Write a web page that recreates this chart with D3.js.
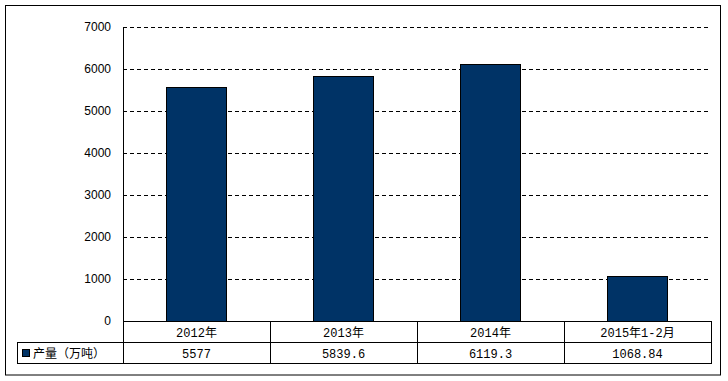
<!DOCTYPE html>
<html>
<head>
<meta charset="utf-8">
<script src="https://cdn.jsdelivr.net/npm/d3@7"></script>
<style>
  body { margin: 0; background: #fff; }
  svg { display: block; }
</style>
</head>
<body>
<svg width="728" height="381"></svg>
<script>
const categories = ["2012年", "2013年", "2014年", "2015年1-2月"];
const values = [5577, 5839.6, 6119.3, 1068.84];
const valueLabels = ["5577", "5839.6", "6119.3", "1068.84"];
const yTicks = [0, 1000, 2000, 3000, 4000, 5000, 6000, 7000];
const seriesName = "产量（万吨）";

const svg = d3.select("svg");
const plotLeft = 123, plotRight = 711, plotTop = 27, plotBottom = 321;
const rowH = 21;
const tableFont = "'Liberation Mono', 'Noto Sans CJK SC', monospace";

// outer frame
svg.append("rect")
    .attr("x", 5.5).attr("y", 5.5)
    .attr("width", 715).attr("height", 369.5)
    .attr("fill", "none").attr("stroke", "#000").attr("stroke-width", 1);

const x = d3.scaleBand().domain(categories).range([plotLeft, plotRight]).paddingInner(0.59).paddingOuter(0.295);
const xCol = d3.scaleBand().domain(categories).range([plotLeft, plotRight]);
const y = d3.scaleLinear().domain([0, 7000]).range([plotBottom, plotTop]);

// gridlines
svg.append("g")
    .selectAll("line")
    .data(yTicks.filter(d => d > 0))
    .enter().append("line")
    .attr("x1", plotLeft).attr("x2", 708)
    .attr("y1", d => Math.round(y(d)) + 0.5)
    .attr("y2", d => Math.round(y(d)) + 0.5)
    .attr("stroke", "#000")
    .attr("stroke-dasharray", "4,3");

// y axis labels
svg.append("g")
    .selectAll("text")
    .data(yTicks)
    .enter().append("text")
    .attr("x", 111)
    .attr("y", d => y(d))
    .attr("dy", "0.35em")
    .attr("text-anchor", "end")
    .attr("font-family", "Arial, 'Liberation Sans', sans-serif")
    .attr("font-size", "12px")
    .attr("fill", "#000")
    .text(d => d);

// bars
svg.append("g")
    .selectAll("rect")
    .data(values)
    .enter().append("rect")
    .attr("x", (d, i) => Math.round(x(categories[i])) + 0.5)
    .attr("y", d => Math.round(y(d)) + 0.5)
    .attr("width", Math.round(x.bandwidth()))
    .attr("height", d => Math.round(y(0)) - Math.round(y(d)))
    .attr("fill", "#003366")
    .attr("stroke", "#000")
    .attr("stroke-width", 1);

// y axis line
svg.append("line")
    .attr("x1", plotLeft + 0.5).attr("x2", plotLeft + 0.5)
    .attr("y1", plotTop).attr("y2", plotBottom)
    .attr("stroke", "#000");

// data table
const tbl = svg.append("g").attr("fill", "none").attr("stroke", "#000").attr("stroke-width", 1);
tbl.append("line").attr("x1", plotLeft).attr("x2", plotRight + 0.5).attr("y1", plotBottom + 0.5).attr("y2", plotBottom + 0.5);
tbl.append("line").attr("x1", 17).attr("x2", plotRight + 0.5).attr("y1", plotBottom + rowH + 0.5).attr("y2", plotBottom + rowH + 0.5);
tbl.append("line").attr("x1", 17).attr("x2", plotRight + 0.5).attr("y1", plotBottom + 2 * rowH + 0.5).attr("y2", plotBottom + 2 * rowH + 0.5);
tbl.append("line").attr("x1", 17.5).attr("x2", 17.5).attr("y1", plotBottom + rowH).attr("y2", plotBottom + 2 * rowH + 1);
tbl.selectAll(".v")
    .data(categories.concat(["end"]))
    .enter().append("line")
    .attr("x1", (d, i) => Math.round(plotLeft + i * xCol.bandwidth()) + 0.5)
    .attr("x2", (d, i) => Math.round(plotLeft + i * xCol.bandwidth()) + 0.5)
    .attr("y1", plotBottom).attr("y2", plotBottom + 2 * rowH + 1);

svg.append("g")
    .selectAll("text")
    .data(categories)
    .enter().append("text")
    .attr("x", d => xCol(d) + xCol.bandwidth() / 2)
    .attr("y", plotBottom + rowH / 2 + 1)
    .attr("dy", "0.35em")
    .attr("text-anchor", "middle")
    .attr("font-family", tableFont)
    .attr("font-size", "12px")
    .attr("fill", "#000")
    .text(d => d);

svg.append("g")
    .selectAll("text")
    .data(valueLabels)
    .enter().append("text")
    .attr("x", (d, i) => xCol(categories[i]) + xCol.bandwidth() / 2)
    .attr("y", plotBottom + rowH * 1.5 + 1)
    .attr("dy", "0.35em")
    .attr("text-anchor", "middle")
    .attr("font-family", tableFont)
    .attr("font-size", "12px")
    .attr("fill", "#000")
    .text(d => d);

// legend key + series name
svg.append("rect")
    .attr("x", 22.5).attr("y", plotBottom + rowH + 7.5)
    .attr("width", 7).attr("height", 7)
    .attr("fill", "#003366").attr("stroke", "#000");

svg.append("text")
    .attr("x", 33)
    .attr("y", plotBottom + rowH * 1.5 + 1)
    .attr("dy", "0.35em")
    .attr("font-family", "'Noto Sans CJK SC', sans-serif")
    .attr("font-size", "12px")
    .attr("fill", "#000")
    .text(seriesName);
</script>
</body>
</html>
